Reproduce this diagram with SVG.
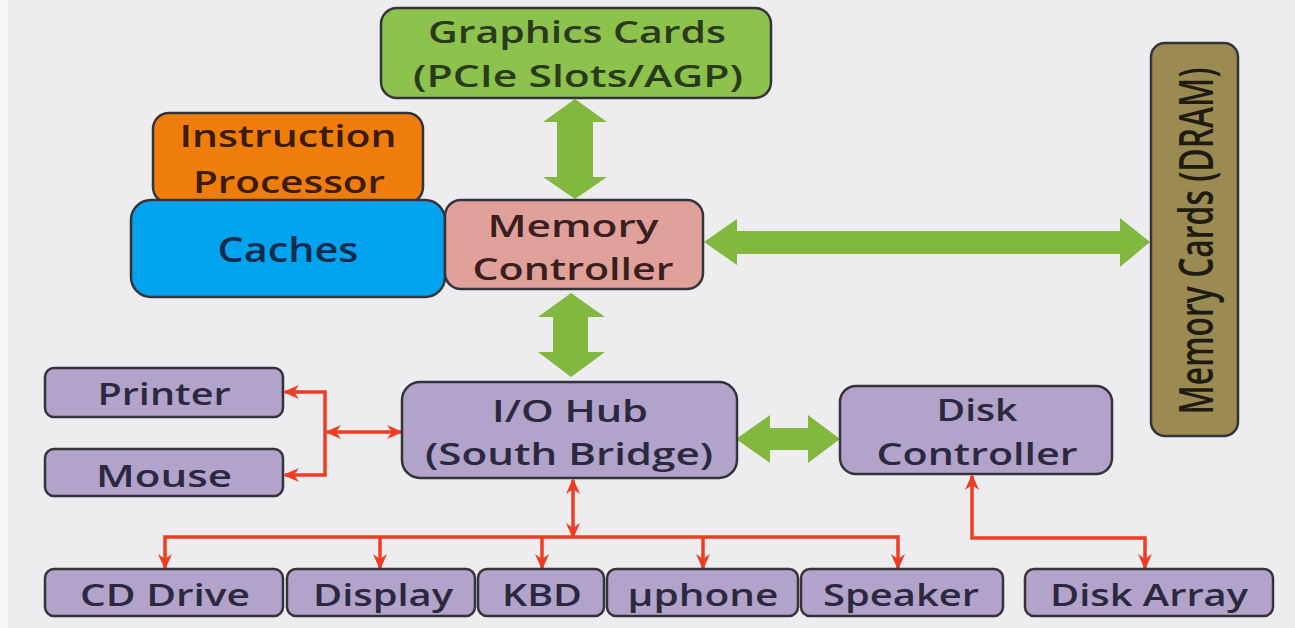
<svg xmlns="http://www.w3.org/2000/svg" width="1295" height="628" viewBox="0 0 1295 628">
<defs>
<style>
.box{stroke:#35333a;stroke-width:2.5}
.t{font-family:"Open Sans","Liberation Sans",sans-serif;font-size:31px;font-weight:600;text-anchor:middle}
.gr{fill:#8dc24c}
.or{fill:#ee7d0c}
.bl{fill:#01a3ee}
.pk{fill:#e1a19b}
.ol{fill:#9b8b52}
.pu{fill:#b1a3c9}
.tg{fill:#2a3a1c}
.to{fill:#3b1c00}
.tb{fill:#0e2b4c}
.tp{fill:#3a1f1f}
.tu{fill:#2c2840}
.arrowG{fill:#82b840}
.red{fill:none;stroke:#f03c22;stroke-width:3.5;stroke-linejoin:miter}
</style>
<marker id="ah" viewBox="0 0 16 16" refX="14" refY="8" markerWidth="16" markerHeight="16" markerUnits="userSpaceOnUse" orient="auto-start-reverse">
<path d="M0,1 L16,8 L0,15 L5,8 Z" fill="#f03c22"/>
</marker>
</defs>
<rect x="0" y="0" width="1295" height="628" fill="#ededf0"/>
<rect x="0" y="0" width="8" height="628" fill="#f7f7f9"/>

<g id="connectors">
<polygon class="arrowG" points="575,99 607,122 593,122 593,177 607,177 575,199 543,177 557,177 557,122 543,122"/>
<polygon class="arrowG" points="571,293 605,317 588,317 588,352 605,352 571,377 538,352 553,352 553,317 538,317"/>
<polygon class="arrowG" points="704,242 737,219 737,231 1120,231 1120,218 1150,242 1120,267 1120,254 737,254 737,265"/>
<polygon class="arrowG" points="736,439 770,415 770,428 808,428 808,415 840,439 808,463 808,450 770,450 770,463"/>
<path class="red" d="M285 392 H325 V475 H285" marker-start="url(#ah)" marker-end="url(#ah)"/>
<path class="red" d="M327 432 H401" marker-start="url(#ah)" marker-end="url(#ah)"/>
<path class="red" d="M573 480 V537" marker-start="url(#ah)" marker-end="url(#ah)"/>
<path class="red" d="M165 568 V537 H898 V568" marker-start="url(#ah)" marker-end="url(#ah)"/>
<path class="red" d="M380 537 V568" marker-end="url(#ah)"/>
<path class="red" d="M542 537 V568" marker-end="url(#ah)"/>
<path class="red" d="M703 537 V568" marker-end="url(#ah)"/>
<path class="red" d="M972 476 V538 H1145 V568" marker-start="url(#ah)" marker-end="url(#ah)"/>
</g>

<g id="graphics">
<rect class="box gr" x="381" y="8" width="390" height="90" rx="16"/>
<text class="t tg" x="577" y="43" textLength="298" lengthAdjust="spacingAndGlyphs">Graphics Cards</text>
<text class="t tg" x="578" y="87" textLength="330" lengthAdjust="spacingAndGlyphs">(PCIe Slots/AGP)</text>
</g>

<g id="instruction-processor">
<rect class="box or" x="153" y="113" width="270" height="90" rx="16"/>
<text class="t to" x="288" y="147" textLength="217" lengthAdjust="spacingAndGlyphs">Instruction</text>
<text class="t to" x="289" y="193" textLength="192" lengthAdjust="spacingAndGlyphs">Processor</text>
</g>

<g id="caches">
<rect class="box bl" x="131" y="200" width="314" height="97" rx="20"/>
<text class="t tb" x="288" y="262" style="font-size:34px" textLength="141" lengthAdjust="spacingAndGlyphs">Caches</text>
</g>

<g id="memory-controller">
<rect class="box pk" x="445" y="200" width="258" height="89" rx="16"/>
<text class="t tp" x="573" y="237" textLength="171" lengthAdjust="spacingAndGlyphs">Memory</text>
<text class="t tp" x="573" y="280" textLength="201" lengthAdjust="spacingAndGlyphs">Controller</text>
</g>

<g id="memory-cards">
<rect class="box ol" x="1151" y="43" width="87" height="393" rx="14"/>
<text class="t" fill="#1f1b10" style="font-size:32px" transform="translate(1213,241) scale(1.45,1) rotate(-90)" textLength="347" lengthAdjust="spacingAndGlyphs">Memory Cards (DRAM)</text>
</g>

<g id="io-hub">
<rect class="box pu" x="402" y="382" width="335" height="96" rx="18"/>
<text class="t tu" x="570" y="422" textLength="156" lengthAdjust="spacingAndGlyphs">I/O Hub</text>
<text class="t tu" x="569" y="465" textLength="288" lengthAdjust="spacingAndGlyphs">(South Bridge)</text>
</g>

<g id="disk-controller">
<rect class="box pu" x="840" y="386" width="272" height="88" rx="16"/>
<text class="t tu" x="977" y="421" textLength="81" lengthAdjust="spacingAndGlyphs">Disk</text>
<text class="t tu" x="977" y="465" textLength="201" lengthAdjust="spacingAndGlyphs">Controller</text>
</g>

<g id="printer">
<rect class="box pu" x="45" y="368" width="238" height="49" rx="9"/>
<text class="t tu" x="164" y="405" textLength="133" lengthAdjust="spacingAndGlyphs">Printer</text>
</g>

<g id="mouse">
<rect class="box pu" x="45" y="449" width="238" height="47" rx="9"/>
<text class="t tu" x="164" y="487" textLength="136" lengthAdjust="spacingAndGlyphs">Mouse</text>
</g>

<g id="cd-drive">
<rect class="box pu" x="45" y="569" width="238" height="47" rx="9"/>
<text class="t tu" x="165" y="606" textLength="170" lengthAdjust="spacingAndGlyphs">CD Drive</text>
</g>

<g id="display">
<rect class="box pu" x="287" y="569" width="188" height="47" rx="9"/>
<text class="t tu" x="383" y="606" textLength="140" lengthAdjust="spacingAndGlyphs">Display</text>
</g>

<g id="kbd">
<rect class="box pu" x="478" y="569" width="126" height="47" rx="9"/>
<text class="t tu" x="542" y="606" textLength="80" lengthAdjust="spacingAndGlyphs">KBD</text>
</g>

<g id="uphone">
<rect class="box pu" x="607" y="569" width="191" height="47" rx="9"/>
<text class="t tu" x="703" y="606" textLength="151" lengthAdjust="spacingAndGlyphs">µphone</text>
</g>

<g id="speaker">
<rect class="box pu" x="801" y="569" width="202" height="47" rx="9"/>
<text class="t tu" x="901" y="606" textLength="156" lengthAdjust="spacingAndGlyphs">Speaker</text>
</g>

<g id="disk-array">
<rect class="box pu" x="1025" y="569" width="248" height="47" rx="9"/>
<text class="t tu" x="1149" y="606" textLength="198" lengthAdjust="spacingAndGlyphs">Disk Array</text>
</g>
</svg>
